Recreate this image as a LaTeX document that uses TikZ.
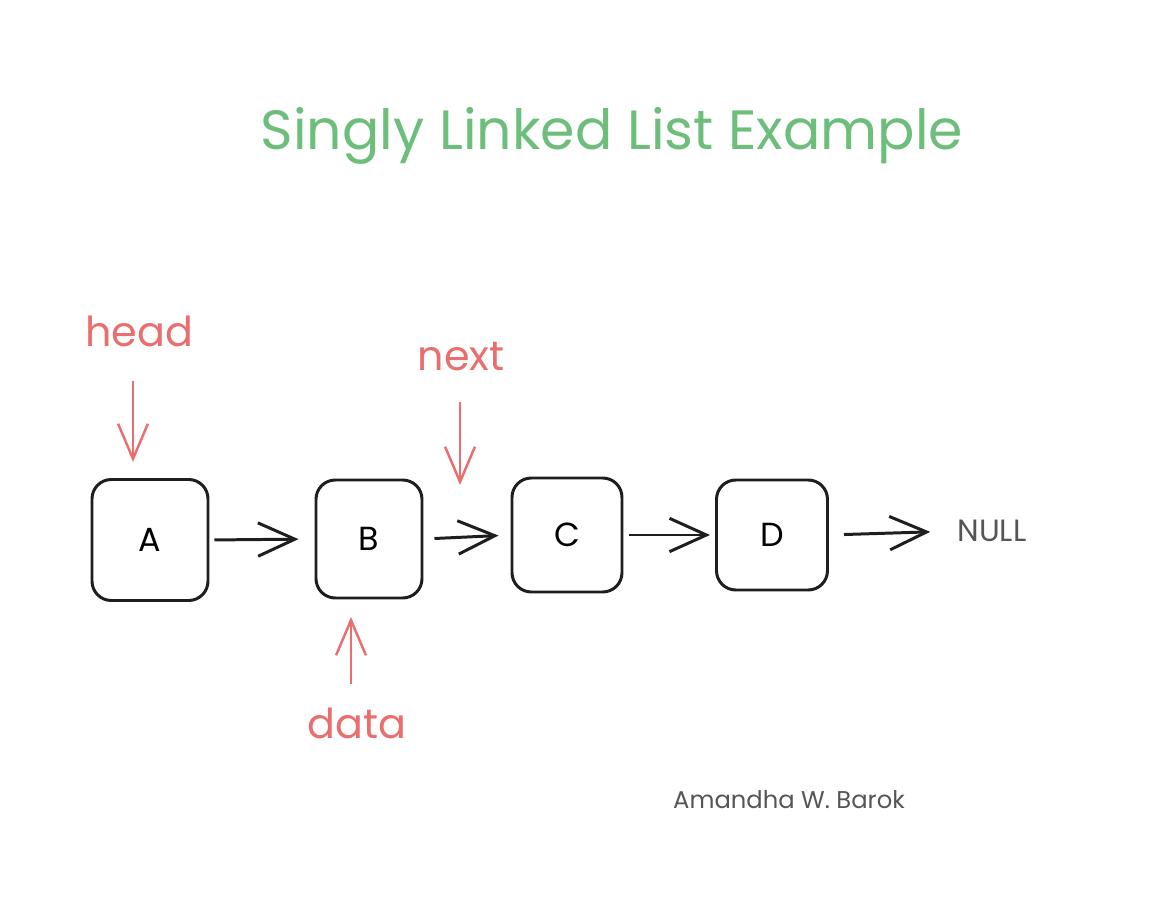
\documentclass[tikz,border=0pt]{standalone}
\usepackage{fontspec}
\setmainfont{Poppins}
\usetikzlibrary{arrows.meta}
\definecolor{titlegreen}{HTML}{6DBE7B}
\definecolor{notered}{HTML}{EB6E6E}
\definecolor{inkgray}{HTML}{555555}
\definecolor{inkblack}{HTML}{1E1E1E}
\begin{document}
\begin{tikzpicture}[x=0.02cm, y=-0.02cm,
    box/.style={draw=inkblack, line width=1.7pt, rounded corners=11pt, inner sep=0pt},
    link/.style={draw=inkblack, line width=1.7pt, -{Straight Barb[length=21pt, width=19pt, line width=1.7pt]}},
    pointer/.style={draw=notered, line width=1.4pt, -{Straight Barb[length=20pt, width=17pt, line width=1.4pt]}},
    note/.style={text=notered, font=\fontsize{23.5}{27}\selectfont},
  ]
                \useasboundingbox (0,0) rectangle (1164,912);

                \node[text=titlegreen, font=\fontsize{31.5}{36}\selectfont] (title) at (612,136) {Singly Linked List Example};

                \foreach \n/\x/\y/\w/\h in {A/150/540/116/121, B/369/539/106/118, C/567/535/110/114, D/772/535/111/110}{
                    \node[box, minimum width=\w*0.02cm, minimum height=\h*0.02cm,
                      font=\fontsize{19}{22}\selectfont] (\n) at (\x,\y) {\n};
                  }
                \node[text=inkgray, font=\fontsize{17.5}{20}\selectfont, inner sep=0pt] (null) at (992,531) {NULL};

                \draw[link, shorten <=0.1cm, shorten >=0.32cm] (A.east) -- (B.west);
                \draw[link, shorten <=0.22cm, shorten >=0.24cm] (B.east) -- (C.west);
                \draw[link, shorten <=0.12cm, shorten >=0.1cm] (C.east) -- (D.west);
                \draw[link, shorten <=0.3cm, shorten >=0.54cm] (D.east) -- (null.west);

                % pointers
                \node[note] (head) at (139,331) {head};
                \node[note] (next) at (461,357) {next};
                \node[note] (data) at (357,723) {data};
                \coordinate (headtip) at (133,462);
                \coordinate (nexttip) at (460,485);
                \coordinate (datatip) at (351,617);
                \draw[pointer, shorten <=16pt] (head.south -| headtip) -- (headtip);
                \draw[pointer, shorten <=14pt] (next.south -| nexttip) -- (nexttip);
                \draw[pointer, shorten <=10pt] (data.north -| datatip) -- (datatip);

                \node[text=inkgray, font=\fontsize{13.8}{17}\selectfont] (author) at (789,800) {Amandha W. Barok};
              \end{tikzpicture}
\end{document}
